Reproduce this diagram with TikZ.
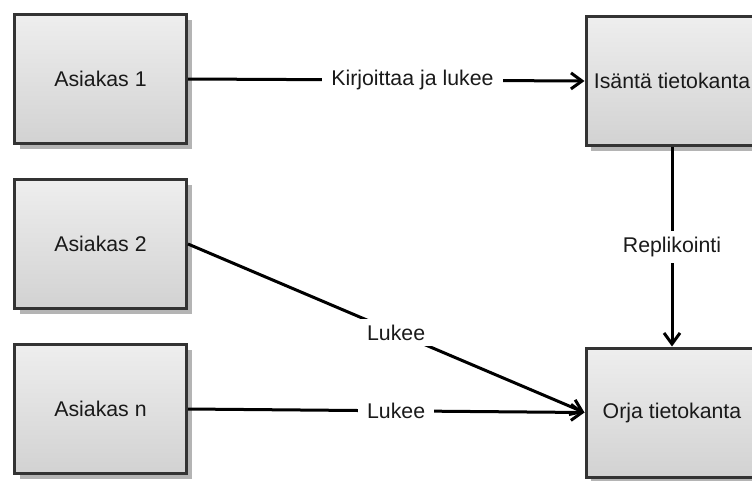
\documentclass[tikz,border=0pt]{standalone}
\usepackage{fontspec}
\setmainfont{Liberation Sans}
\usetikzlibrary{arrows.meta,shadows}
\definecolor{boxline}{HTML}{333333}
\definecolor{boxtop}{HTML}{EEEEEE}
\definecolor{boxbot}{HTML}{D2D2D2}
\definecolor{shadowc}{HTML}{B4B4B4}
\definecolor{txt}{HTML}{1A1A1A}
\begin{document}
\begin{tikzpicture}[x=1pt,y=-1pt,
  box/.style={draw=boxline, line width=3pt, top color=boxtop, bottom color=boxbot,
    minimum width=172pt, minimum height=129pt, inner sep=0pt,
    general shadow={fill=shadowc, shadow xshift=5pt, shadow yshift=-5pt},
    font=\fontsize{21.3}{25}\selectfont, text=txt},
  conn/.style={draw=black, line width=3pt, -{Straight Barb[length=11pt,width=16pt]}},
  lbl/.style={fill=white, text=txt, font=\fontsize{21.3}{25}\selectfont, inner xsep=9pt, inner ysep=6pt}
]
\useasboundingbox (0,0) rectangle (752,480);
\clip (0,0) rectangle (752,480);
\node[box] (a1) at (100.5,79) {Asiakas 1};
\node[box] (a2) at (100.5,244) {Asiakas 2};
\node[box] (an) at (100.5,409) {Asiakas n};
\node[box] (m) at (672,81) {Isäntä tietokanta};
\node[box] (s) at (672,412.5) {Orja tietokanta};
\draw[conn] (a1.east) -- node[lbl, pos=0.566] {Kirjoittaa ja lukee} (m.west);
\draw[conn] (a2.east) -- node[lbl, pos=0.525] {Lukee} (s.west);
\draw[conn] (an.east) -- node[lbl, pos=0.525] {Lukee} (s.west);
\draw[conn] (m.south) -- node[lbl, pos=0.5] {Replikointi} (s.north);
\end{tikzpicture}
\end{document}
